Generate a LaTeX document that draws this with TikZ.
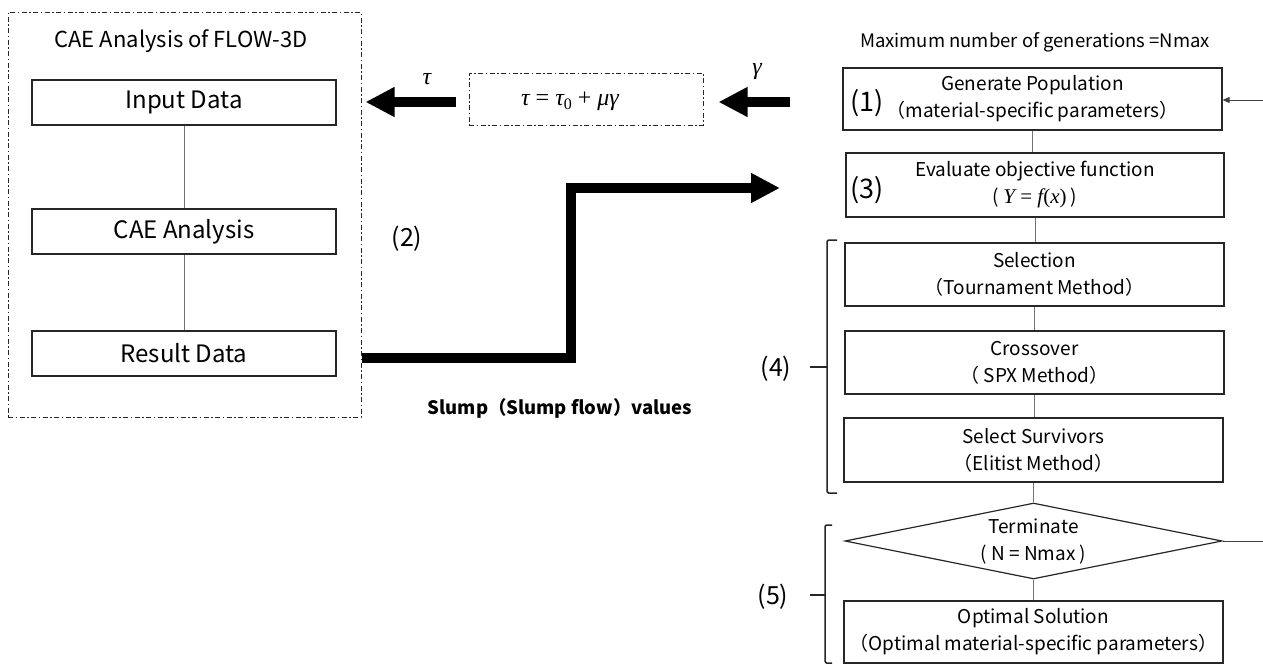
\documentclass[tikz,border=0pt]{standalone}
\usepackage{fontspec}
\setmainfont{Noto Sans CJK JP}
\newfontfamily\mfont{Liberation Serif}
\usetikzlibrary{arrows.meta,shapes.geometric}
\newcommand{\mi}[1]{{\mfont\itshape #1}}
\begin{document}
\begin{tikzpicture}[x=1pt,y=-1pt,
  box/.style={draw=black!85, line width=1.2pt, inner sep=0pt, align=center},
  dd/.style={draw=black!85, line width=1pt, dash pattern=on 5pt off 2.5pt on 1.5pt off 2.5pt},
  link/.style={draw=black!55, line width=0.9pt},
  big/.style={line width=9.5pt, -{Triangle[width=28pt,length=29pt]}},
  brk/.style={draw=black!85, line width=1.5pt, rounded corners=1.5pt},
  lft/.style={font=\fontsize{24}{28}\selectfont},
  rgt/.style={font=\fontsize{19}{27}\selectfont},
  num/.style={font=\fontsize{25}{28}\selectfont},
  mth/.style={font=\mfont\fontsize{24}{28}\selectfont},
]
\useasboundingbox (0,0) rectangle (1263,664);

% left group
\node[dd, minimum width=353pt, minimum height=405pt] (outer) at (184.5,214.5) {};
\node[font=\fontsize{22}{24}\selectfont] (title) at (181,41) {CAE Analysis of FLOW-3D};
\node[box, lft, minimum width=304pt, minimum height=45pt] (inp) at (184,102.5) {Input Data};
\node[box, lft, minimum width=304pt, minimum height=45pt] (cae) at (184,231.5) {CAE Analysis};
\node[box, lft, minimum width=304pt, minimum height=45pt] (res) at (184,353.5) {Result Data};
\draw[link] (inp) -- (cae);
\draw[link] (cae) -- (res);

% formula
\node[dd, minimum width=234pt, minimum height=52pt] (fbox) at (586,99) {};
\node[mth] (form) at (570,101) {\mi{τ} = \mi{τ}\raisebox{-0.35ex}{\fontsize{16}{16}\selectfont 0} + \mi{μγ}};
\node[mth] (taulab) at (427,79) {\mi{τ}};
\node[mth] (gamlab) at (757,72) {\mi{γ}};

% right column
\node[font=\fontsize{18.5}{20}\selectfont] (maxg) at (1035,42) {Maximum number of generations =Nmax};
\node[box, rgt, minimum width=379pt, minimum height=62pt] (b1) at (1032.5,99) {Generate Population\\（material-specific parameters）};
\node[box, rgt, minimum width=378pt, minimum height=64pt] (b3) at (1035,185) {Evaluate objective function\\( {\mfont\fontsize{21}{21}\selectfont\mi{Y} = \mi{f}(\mi{x})} )};
\node[box, rgt, minimum width=379pt, minimum height=63pt] (sel) at (1034.5,274.5) {Selection\\（Tournament Method）};
\node[box, rgt, minimum width=379pt, minimum height=63pt] (cro) at (1034.5,362.5) {Crossover\\（ SPX Method）};
\node[box, rgt, minimum width=379pt, minimum height=64pt] (sur) at (1033.5,450) {Select Survivors\\（Elitist Method）};
\node[box, rgt, diamond, aspect=4.96, minimum width=377pt, minimum height=76pt] (dia) at (1033.5,541) {Terminate\\( N = Nmax )};
\node[box, rgt, minimum width=379pt, minimum height=62pt] (opt) at (1033.5,632) {Optimal Solution\\（Optimal material-specific parameters）};

\node[num, font=\fontsize{27}{28}\selectfont] (l1) at (867,103) {(1)};
\node[num, font=\fontsize{27}{28}\selectfont] (l3) at (867,190) {(3)};
\node[num] (l2) at (407,239) {(2)};
\node[num] (l4) at (776,369) {(4)};
\node[num] (l5) at (773,597) {(5)};

\draw[link] (b1.south) -- (b1.south |- b3.north);
\draw[link] (b3.south) -- (b3.south |- sel.north);
\draw[link] (sel.south) -- (sel.south |- cro.north);
\draw[link] (cro.south) -- (cro.south |- sur.north);
\draw[link] (sur.south) -- (sur.south |- dia.north);
\draw[link] (dia.south) -- (dia.south |- opt.north);

% loop lines
\coordinate (loopin) at (1263,100);
\coordinate (loopout) at (1263,541);
\draw[link, draw=black!75, -{Triangle[width=6pt,length=7pt]}] (loopin) -- (b1.east |- loopin);
\draw[link, draw=black!75] (dia.east) -- (loopout);

% brackets
\draw[brk] (837,240) -- (827,240) -- (827,493) -- (837,493);
\draw[brk] (810,367) -- (827,367);
\draw[brk] (832,525) -- (825,525) -- (825,663) -- (832,663);
\draw[brk] (810,595) -- (825,595);

% big arrows
\coordinate (tauy) at (0,102);
\draw[big, shorten <=13pt, shorten >=4pt] (fbox.west |- tauy) -- (outer.east |- tauy);
\draw[big, shorten <=52pt, shorten >=15pt] (b1.west |- tauy) -- (fbox.east |- tauy);
\coordinate (slumpend) at (780,188);
\coordinate (bend) at (571,358);
\draw[big, line join=miter] (outer.east |- bend) -- (bend) -- (bend |- slumpend) -- (slumpend);
\node[font=\bfseries\fontsize{18.5}{20}\selectfont] (slump) at (560,408) {Slump（Slump flow）values};
\end{tikzpicture}
\end{document}
